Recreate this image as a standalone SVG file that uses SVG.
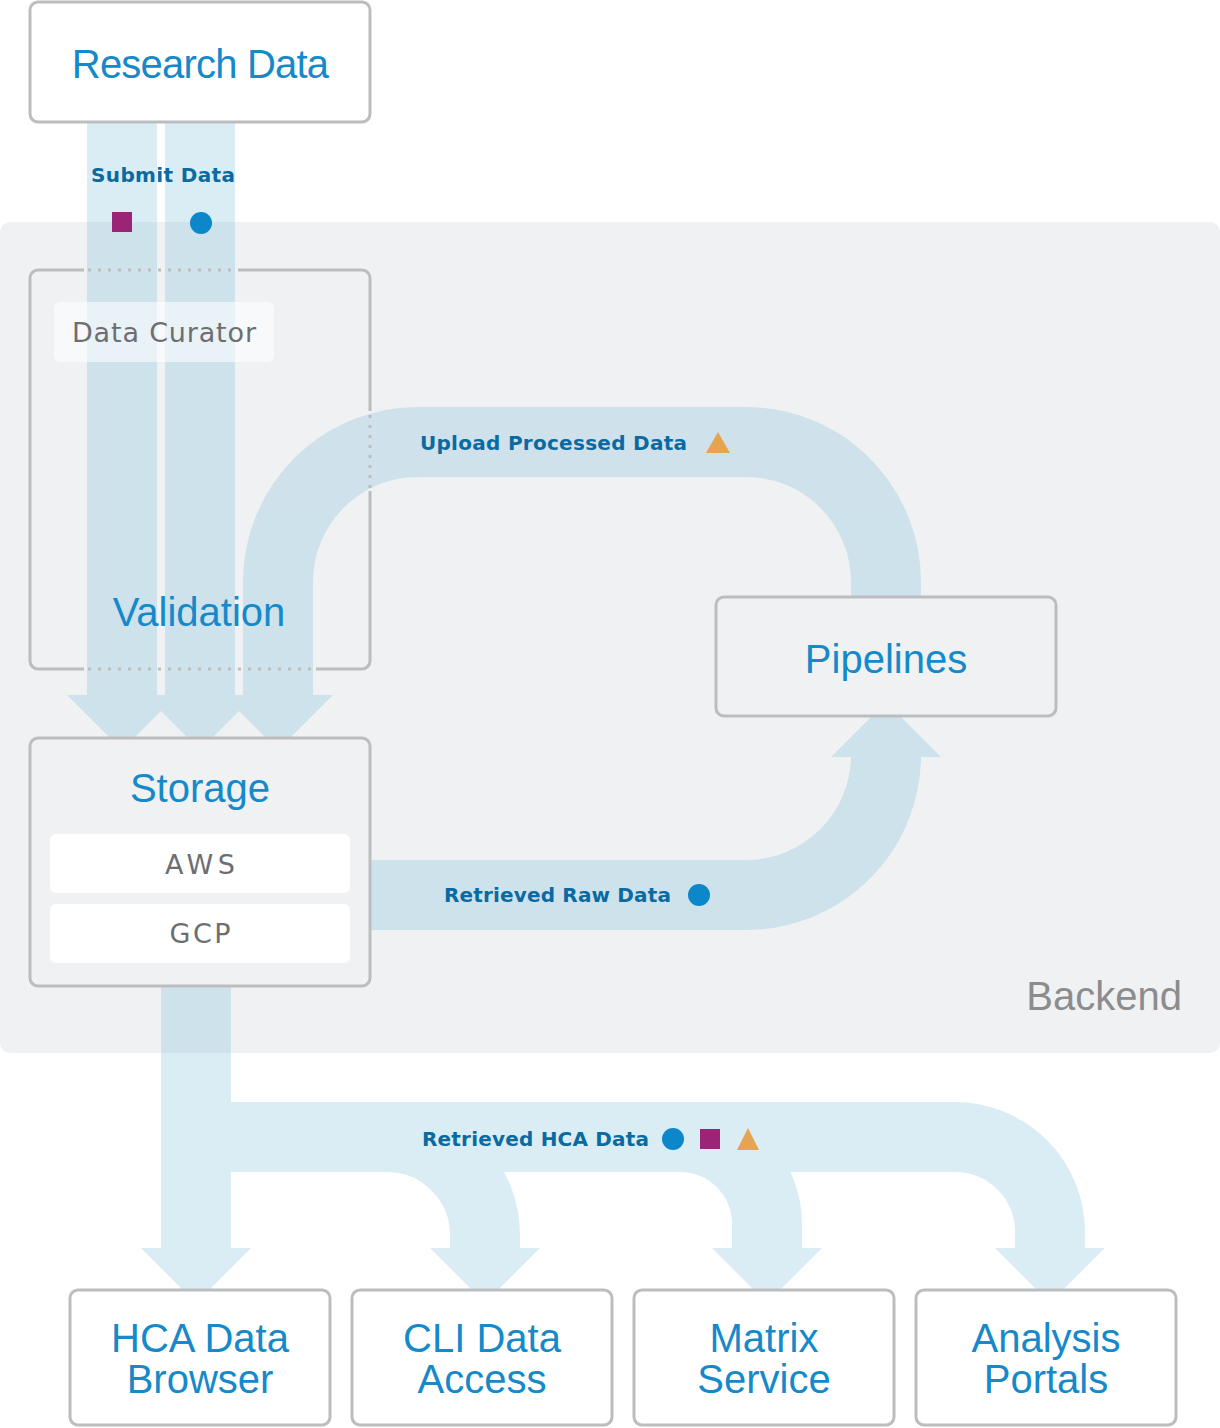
<svg xmlns="http://www.w3.org/2000/svg" width="1220" height="1428" viewBox="0 0 1220 1428">
<defs>
<style>
.box{fill:#ffffff;stroke:#bcbdbf;stroke-width:3}
.gbox{fill:#f0f1f3;stroke:#bcbdbf;stroke-width:3}
.edge{fill:none;stroke:#bcbdbf;stroke-width:3}
.dots{fill:none;stroke:#bcbdbf;stroke-width:3;stroke-dasharray:3 7}
.title{font-family:"Liberation Sans",Arial,sans-serif;font-size:40px;fill:#1589c9;text-anchor:middle}
.lbl{font-family:"DejaVu Sans","Noto Sans",sans-serif;font-size:20px;font-weight:bold;fill:#0a6aa1}
.gray{font-family:"DejaVu Sans","Noto Sans",sans-serif;font-size:27px;fill:#6d6e71;text-anchor:middle}
.band{fill:none;stroke:#4baacd;stroke-width:70}
.head{fill:#4baacd}
.sq{fill:#9b2476}
.ci{fill:#0c87c9}
.tr{fill:#e5a550}
</style>
</defs>
<rect x="0" y="0" width="1220" height="1428" fill="#ffffff"/>
<g id="backend">
<rect x="0" y="222" width="1220" height="831" rx="10" fill="#f0f1f3"/>
<text x="1182" y="1010" font-family="'Liberation Sans',Arial,sans-serif" font-size="40" fill="#8b8c8e" text-anchor="end">Backend</text>
</g>
<g id="connectors" opacity="0.2">
<rect class="head" x="87" y="122" width="70" height="575"/>
<rect class="head" x="165" y="122" width="70" height="575"/>
<polygon class="head" points="67,695 177,695 122,750"/>
<polygon class="head" points="145,695 255,695 200,750"/>
<path class="band" d="M886,598 L886,582 A140,140 0 0 0 746,442 L418,442 A140,140 0 0 0 278,582 L278,697"/>
<polygon class="head" points="223,695 333,695 278,750"/>
<path class="band" d="M368,895 L746,895 A140,140 0 0 0 886,755 L886,759"/>
<polygon class="head" points="831,757 941,757 886,702"/>
<path class="band" d="M196,984 L196,1250"/>
<polygon class="head" points="141,1248 251,1248 196,1303"/>
<path class="band" d="M196,1137 L955,1137 A95,95 0 0 1 1050,1232 L1050,1250"/>
<polygon class="head" points="995,1248 1105,1248 1050,1303"/>
<path class="band" d="M387,1137 A98,98 0 0 1 485,1235 L485,1250"/>
<polygon class="head" points="430,1248 540,1248 485,1303"/>
<path class="band" d="M680,1137 A87,87 0 0 1 767,1224 L767,1250"/>
<polygon class="head" points="712,1248 822,1248 767,1303"/>
</g>
<g id="research-data">
<rect class="box" x="30" y="2" width="340" height="120" rx="8"/>
<text class="title" x="200" y="78" letter-spacing="-0.8">Research Data</text>
</g>
<g id="submit-label">
<text class="lbl" x="91" y="182" textLength="144" lengthAdjust="spacing">Submit Data</text>
<rect class="sq" x="112" y="212" width="20" height="20"/>
<circle class="ci" cx="201" cy="223" r="11"/>
</g>
<g id="validation">
<path class="edge" d="M84,270 L38,270 A8,8 0 0 0 30,278 L30,661 A8,8 0 0 0 38,669 L84,669"/>
<path class="edge" d="M238,270 L362,270 A8,8 0 0 1 370,278 L370,411"/>
<path class="edge" d="M370,491 L370,661 A8,8 0 0 1 362,669 L316,669"/>
<path class="dots" d="M88,270 L236,270 M88,669 L314,669 M370,415 L370,489"/>
<rect x="54" y="302" width="220" height="60" rx="6" fill="#ffffff" fill-opacity="0.55"/>
<text class="gray" x="164" y="342" textLength="184" lengthAdjust="spacing">Data Curator</text>
<text class="title" x="199" y="626">Validation</text>
</g>
<g id="upload-label">
<text class="lbl" x="420" y="450" textLength="267" lengthAdjust="spacing">Upload Processed Data</text>
<polygon class="tr" points="718,432 730,453 706,453"/>
</g>
<g id="pipelines">
<rect class="gbox" x="716" y="597" width="340" height="119" rx="8"/>
<text class="title" x="886" y="673">Pipelines</text>
</g>
<g id="storage">
<rect class="gbox" x="30" y="738" width="340" height="248" rx="8"/>
<text class="title" x="200" y="802">Storage</text>
<rect x="50" y="834" width="300" height="59" rx="6" fill="#ffffff"/>
<text class="gray" x="200" y="874" textLength="70" lengthAdjust="spacing">AWS</text>
<rect x="50" y="904" width="300" height="59" rx="6" fill="#ffffff"/>
<text class="gray" x="200" y="943" textLength="61" lengthAdjust="spacing">GCP</text>
</g>
<g id="raw-label">
<text class="lbl" x="444" y="902" textLength="227" lengthAdjust="spacing">Retrieved Raw Data</text>
<circle class="ci" cx="699" cy="895" r="11"/>
</g>
<g id="hca-label">
<text class="lbl" x="422" y="1146" textLength="227" lengthAdjust="spacing">Retrieved HCA Data</text>
<circle class="ci" cx="673" cy="1139" r="11"/>
<rect class="sq" x="700" y="1129" width="20" height="20"/>
<polygon class="tr" points="748,1128 759,1150 737,1150"/>
</g>
<g id="hca-data-browser">
<rect class="box" x="70" y="1290" width="260" height="135" rx="8"/>
<text class="title" x="200" y="1352">HCA Data</text>
<text class="title" x="200" y="1393">Browser</text>
</g>
<g id="cli-data-access">
<rect class="box" x="352" y="1290" width="260" height="135" rx="8"/>
<text class="title" x="482" y="1352">CLI Data</text>
<text class="title" x="482" y="1393">Access</text>
</g>
<g id="matrix-service">
<rect class="box" x="634" y="1290" width="260" height="135" rx="8"/>
<text class="title" x="764" y="1352">Matrix</text>
<text class="title" x="764" y="1393">Service</text>
</g>
<g id="analysis-portals">
<rect class="box" x="916" y="1290" width="260" height="135" rx="8"/>
<text class="title" x="1046" y="1352">Analysis</text>
<text class="title" x="1046" y="1393">Portals</text>
</g>
</svg>
